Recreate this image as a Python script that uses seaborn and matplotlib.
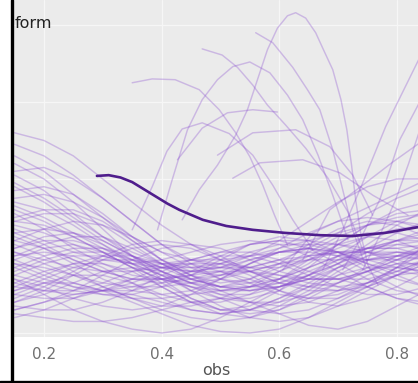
import matplotlib
matplotlib.use("Agg")
import matplotlib.pyplot as plt
from matplotlib.lines import Line2D
import pandas as pd
import seaborn as sns

# Common evaluation grid for the bulk of the posterior draws
obs_grid = [0.15, 0.20, 0.25, 0.30, 0.35, 0.40, 0.45, 0.50,
            0.55, 0.60, 0.65, 0.70, 0.75, 0.80, 0.85]

band_draws = [
    [1.20, 1.10, 0.95, 0.80, 0.70, 0.65, 0.70, 0.80, 0.95, 1.05, 1.10, 1.05, 0.95, 0.85, 0.80],
    [0.60, 0.75, 0.90, 1.00, 1.00, 0.90, 0.75, 0.55, 0.40, 0.35, 0.40, 0.55, 0.75, 0.90, 1.00],
    [1.60, 1.45, 1.25, 1.05, 0.85, 0.70, 0.60, 0.55, 0.60, 0.70, 0.85, 1.00, 1.10, 1.15, 1.10],
    [0.90, 0.85, 0.75, 0.60, 0.45, 0.30, 0.20, 0.15, 0.20, 0.35, 0.55, 0.80, 1.00, 1.15, 1.20],
    [1.90, 1.70, 1.45, 1.20, 1.00, 0.85, 0.80, 0.85, 0.95, 1.05, 1.10, 1.05, 0.90, 0.75, 0.60],
    [0.40, 0.55, 0.75, 0.95, 1.10, 1.15, 1.10, 0.95, 0.80, 0.65, 0.60, 0.65, 0.80, 1.00, 1.15],
    [1.30, 1.35, 1.30, 1.15, 0.95, 0.75, 0.55, 0.45, 0.45, 0.55, 0.75, 1.00, 1.25, 1.45, 1.55],
    [0.75, 0.65, 0.55, 0.50, 0.50, 0.60, 0.75, 0.95, 1.15, 1.25, 1.20, 1.05, 0.85, 0.70, 0.60],
    [2.20, 2.00, 1.70, 1.35, 1.00, 0.70, 0.45, 0.30, 0.25, 0.30, 0.45, 0.65, 0.85, 1.00, 1.05],
    [1.00, 1.15, 1.25, 1.25, 1.10, 0.90, 0.70, 0.60, 0.65, 0.80, 1.00, 1.20, 1.30, 1.30, 1.20],
    [0.50, 0.45, 0.45, 0.55, 0.70, 0.85, 0.95, 0.90, 0.75, 0.55, 0.40, 0.35, 0.45, 0.60, 0.80],
    [1.45, 1.55, 1.55, 1.40, 1.15, 0.90, 0.70, 0.60, 0.60, 0.70, 0.90, 1.15, 1.40, 1.60, 1.70],
    [0.20, 0.30, 0.45, 0.60, 0.70, 0.70, 0.60, 0.45, 0.30, 0.25, 0.30, 0.45, 0.65, 0.85, 0.95],
    [1.05, 0.95, 0.85, 0.80, 0.80, 0.85, 0.90, 0.90, 0.85, 0.75, 0.65, 0.60, 0.65, 0.75, 0.90],
    [2.45, 2.30, 2.05, 1.75, 1.45, 1.15, 0.90, 0.70, 0.60, 0.60, 0.70, 0.90, 1.15, 1.40, 1.60],
    [0.85, 1.00, 1.10, 1.10, 1.00, 0.80, 0.55, 0.35, 0.20, 0.15, 0.20, 0.35, 0.55, 0.75, 0.90],
    [1.70, 1.60, 1.40, 1.15, 0.90, 0.75, 0.70, 0.75, 0.90, 1.10, 1.30, 1.45, 1.50, 1.45, 1.35],
    [0.65, 0.80, 0.90, 0.90, 0.80, 0.60, 0.40, 0.25, 0.20, 0.30, 0.50, 0.75, 0.95, 1.05, 1.05],
    [1.25, 1.10, 0.90, 0.70, 0.55, 0.50, 0.55, 0.70, 0.90, 1.05, 1.10, 1.00, 0.80, 0.60, 0.45],
    [0.30, 0.40, 0.55, 0.75, 0.95, 1.10, 1.15, 1.10, 0.95, 0.80, 0.70, 0.70, 0.80, 0.95, 1.10],
    [1.85, 1.90, 1.80, 1.55, 1.25, 0.95, 0.75, 0.65, 0.70, 0.85, 1.05, 1.25, 1.40, 1.45, 1.40],
    [0.95, 0.80, 0.65, 0.55, 0.55, 0.65, 0.80, 1.00, 1.15, 1.20, 1.10, 0.90, 0.70, 0.55, 0.50],
    [1.40, 1.30, 1.15, 1.00, 0.90, 0.85, 0.85, 0.85, 0.80, 0.70, 0.60, 0.55, 0.60, 0.75, 0.95],
    [0.70, 0.60, 0.45, 0.35, 0.30, 0.35, 0.50, 0.70, 0.90, 1.05, 1.15, 1.15, 1.05, 0.90, 0.75],
    [2.05, 1.85, 1.55, 1.25, 1.00, 0.85, 0.80, 0.85, 1.00, 1.20, 1.45, 1.70, 1.90, 2.00, 2.00],
    [1.10, 1.20, 1.20, 1.10, 0.90, 0.65, 0.45, 0.30, 0.30, 0.40, 0.60, 0.85, 1.05, 1.20, 1.25],
    [0.55, 0.70, 0.85, 0.95, 0.95, 0.85, 0.70, 0.60, 0.55, 0.60, 0.75, 0.95, 1.10, 1.20, 1.20],
    [1.55, 1.35, 1.10, 0.90, 0.75, 0.70, 0.75, 0.90, 1.05, 1.15, 1.15, 1.05, 0.90, 0.80, 0.75],
    [0.80, 0.95, 1.05, 1.05, 0.95, 0.80, 0.65, 0.55, 0.55, 0.65, 0.80, 0.95, 1.05, 1.05, 1.00],
    [1.15, 1.00, 0.80, 0.60, 0.45, 0.35, 0.35, 0.45, 0.60, 0.80, 0.95, 1.05, 1.05, 0.95, 0.85],
    [0.45, 0.60, 0.80, 1.00, 1.15, 1.20, 1.15, 1.00, 0.80, 0.65, 0.55, 0.55, 0.65, 0.80, 0.95],
    [1.75, 1.80, 1.70, 1.50, 1.25, 1.05, 0.95, 0.95, 1.00, 1.05, 1.05, 1.00, 0.95, 0.95, 1.00],
    [0.35, 0.30, 0.30, 0.40, 0.55, 0.75, 0.90, 1.00, 1.00, 0.90, 0.75, 0.60, 0.50, 0.50, 0.60],
    [1.00, 1.05, 1.00, 0.85, 0.65, 0.45, 0.30, 0.25, 0.30, 0.45, 0.65, 0.85, 1.00, 1.05, 1.00],
    [1.35, 1.20, 1.05, 0.95, 0.90, 0.95, 1.05, 1.15, 1.20, 1.15, 1.00, 0.80, 0.60, 0.45, 0.40],
    [2.60, 2.50, 2.30, 2.00, 1.70, 1.40, 1.15, 0.95, 0.85, 0.85, 0.95, 1.10, 1.25, 1.35, 1.40],
    [0.60, 0.55, 0.55, 0.65, 0.80, 0.90, 0.90, 0.80, 0.65, 0.50, 0.45, 0.50, 0.65, 0.85, 1.05],
    [1.50, 1.60, 1.60, 1.45, 1.20, 0.95, 0.75, 0.60, 0.55, 0.60, 0.70, 0.85, 0.95, 1.00, 1.00],
    [0.90, 0.75, 0.60, 0.50, 0.45, 0.45, 0.50, 0.55, 0.60, 0.65, 0.75, 0.90, 1.10, 1.30, 1.45],
    [1.20, 1.35, 1.45, 1.40, 1.25, 1.05, 0.85, 0.70, 0.65, 0.70, 0.85, 1.00, 1.10, 1.10, 1.00],
    [0.70, 0.50, 0.30, 0.15, 0.05, 0.00, 0.05, 0.20, 0.40, 0.60, 0.70, 0.70, 0.60, 0.45, 0.35],
    [0.55, 0.65, 0.65, 0.55, 0.40, 0.25, 0.10, 0.02, 0.00, 0.05, 0.20, 0.40, 0.60, 0.75, 0.80],
    [0.25, 0.20, 0.15, 0.15, 0.20, 0.30, 0.40, 0.45, 0.40, 0.25, 0.10, 0.05, 0.15, 0.35, 0.55],
    [1.65, 1.50, 1.30, 1.10, 0.95, 0.90, 0.95, 1.05, 1.15, 1.20, 1.20, 1.15, 1.10, 1.10, 1.15],
    [0.95, 1.10, 1.15, 1.05, 0.85, 0.60, 0.40, 0.30, 0.35, 0.55, 0.85, 1.15, 1.40, 1.55, 1.60],
    [1.30, 1.15, 0.95, 0.80, 0.70, 0.70, 0.75, 0.80, 0.80, 0.75, 0.70, 0.70, 0.80, 0.95, 1.10],
    [0.50, 0.65, 0.75, 0.75, 0.65, 0.50, 0.40, 0.40, 0.50, 0.70, 0.95, 1.15, 1.25, 1.20, 1.05],
    [2.30, 2.10, 1.80, 1.50, 1.20, 0.95, 0.80, 0.75, 0.80, 0.90, 1.00, 1.05, 1.05, 1.00, 0.95],
    [0.85, 0.70, 0.60, 0.55, 0.60, 0.70, 0.80, 0.80, 0.70, 0.55, 0.45, 0.45, 0.60, 0.85, 1.15],
    [1.10, 1.25, 1.30, 1.20, 1.00, 0.80, 0.65, 0.60, 0.70, 0.90, 1.15, 1.35, 1.45, 1.40, 1.25],
    [0.65, 0.55, 0.50, 0.55, 0.65, 0.80, 0.95, 1.05, 1.05, 0.95, 0.80, 0.70, 0.70, 0.80, 0.95],
    [1.95, 1.75, 1.50, 1.25, 1.05, 0.90, 0.85, 0.90, 1.00, 1.10, 1.20, 1.30, 1.40, 1.50, 1.55],
    [0.40, 0.50, 0.65, 0.80, 0.85, 0.80, 0.65, 0.50, 0.40, 0.40, 0.50, 0.65, 0.80, 0.90, 0.90],
    [1.45, 1.40, 1.25, 1.05, 0.85, 0.70, 0.65, 0.70, 0.80, 0.90, 0.95, 0.95, 0.95, 1.00, 1.10],
    [0.75, 0.90, 1.00, 1.00, 0.90, 0.75, 0.60, 0.50, 0.50, 0.60, 0.75, 0.90, 1.05, 1.20, 1.35],
    [1.05, 0.90, 0.75, 0.65, 0.60, 0.60, 0.65, 0.75, 0.85, 0.95, 1.00, 1.05, 1.10, 1.20, 1.30],
    [0.30, 0.40, 0.50, 0.55, 0.50, 0.40, 0.30, 0.25, 0.30, 0.45, 0.60, 0.75, 0.85, 0.85, 0.80],
    [2.10, 2.15, 2.00, 1.75, 1.45, 1.15, 0.95, 0.85, 0.85, 0.95, 1.10, 1.30, 1.55, 1.75, 1.90],
]

# Draws that wander far above the bulk, each on its own support
upper_draws = [
    ([0.435, 0.464, 0.495, 0.526, 0.546, 0.563, 0.580, 0.597, 0.614, 0.628, 0.645,
      0.662, 0.677, 0.691, 0.705, 0.715, 0.723, 0.730, 0.739, 0.751, 0.768],
     [1.47, 1.86, 2.18, 2.57, 2.90, 3.29, 3.68, 3.96, 4.12, 4.16, 4.09,
      3.90, 3.65, 3.42, 3.03, 2.64, 2.18, 1.73, 1.27, 0.88, 0.62]),
    ([0.560, 0.589, 0.623, 0.648, 0.669, 0.691, 0.708, 0.725, 0.746],
     [3.90, 3.77, 3.45, 3.16, 2.90, 2.38, 1.86, 1.34, 0.88]),
    ([0.469, 0.503, 0.529, 0.555, 0.580, 0.611, 0.645, 0.683, 0.717, 0.742],
     [3.69, 3.61, 3.45, 3.22, 2.96, 2.70, 2.40, 2.01, 1.57, 1.08]),
    ([0.350, 0.384, 0.423, 0.464, 0.498, 0.526, 0.550, 0.572, 0.592, 0.614],
     [3.25, 3.30, 3.29, 3.16, 2.90, 2.60, 2.29, 1.92, 1.53, 1.14]),
    ([0.393, 0.418, 0.444, 0.469, 0.495, 0.521, 0.550, 0.584, 0.614, 0.640, 0.666, 0.691, 0.717],
     [1.34, 1.99, 2.64, 3.03, 3.29, 3.46, 3.52, 3.38, 3.09, 2.77, 2.31, 1.79, 1.21]),
    ([0.350, 0.384, 0.409, 0.435, 0.469, 0.515, 0.555, 0.589, 0.623, 0.657],
     [1.34, 1.90, 2.36, 2.65, 2.73, 2.59, 2.31, 1.92, 1.47, 1.08]),
    ([0.674, 0.708, 0.742, 0.781, 0.810, 0.841],
     [0.82, 1.34, 1.95, 2.68, 3.13, 3.61]),
    ([0.708, 0.740, 0.771, 0.805, 0.841],
     [0.82, 1.25, 1.73, 2.51, 3.03]),
    ([0.742, 0.770, 0.798, 0.820, 0.841],
     [0.82, 1.25, 1.73, 2.20, 2.68]),
    ([0.640, 0.686, 0.742, 0.793, 0.839],
     [0.95, 1.60, 1.92, 2.22, 2.47]),
    ([0.606, 0.657, 0.742, 0.839],
     [0.82, 1.30, 1.60, 1.95]),
    ([0.495, 0.555, 0.628, 0.686, 0.725, 0.759],
     [2.31, 2.60, 2.64, 2.42, 2.05, 1.53]),
    ([0.521, 0.567, 0.640, 0.703, 0.759, 0.819],
     [2.01, 2.21, 2.25, 2.08, 1.79, 1.53]),
    ([0.427, 0.469, 0.512, 0.555, 0.597],
     [2.25, 2.66, 2.86, 2.90, 2.87]),
]

# Posterior mean curve
mean_obs = [0.29, 0.31, 0.33, 0.35, 0.38, 0.41, 0.43, 0.47, 0.51, 0.555,
            0.61, 0.67, 0.725, 0.78, 0.84]
mean_val = [2.04, 2.05, 2.02, 1.96, 1.82, 1.68, 1.60, 1.47, 1.39, 1.34,
            1.30, 1.27, 1.26, 1.30, 1.38]

x_ticks = [0.2, 0.4, 0.6, 0.8]
x_tick_labels = ["0.2", "0.4", "0.6", "0.8"]

# Long-format table of all draws
rows = []
for i, vals in enumerate(band_draws):
    for xv, yv in zip(obs_grid, vals):
        rows.append({"obs": xv, "value": yv, "draw": i})
for j, (xs, ys) in enumerate(upper_draws):
    for xv, yv in zip(xs, ys):
        rows.append({"obs": xv, "value": yv, "draw": len(band_draws) + j})
draws = pd.DataFrame(rows)
mean_df = pd.DataFrame({"obs": mean_obs, "value": mean_val})

sns.set_theme(style="darkgrid", rc={
    "axes.facecolor": "#ebebeb",
    "grid.color": "#f6f6f6",
    "grid.linewidth": 0.9,
})
plt.rcParams["font.family"] = ["DejaVu Sans"]

fig = plt.figure(figsize=(4.18, 3.83), dpi=100)
fig.patch.set_facecolor("white")
ax = fig.add_axes([14 / 418, 1 - 337 / 383, 1 - 14 / 418, 337 / 383])

sns.lineplot(data=draws, x="obs", y="value", units="draw", estimator=None,
             color="#8a4fd0", alpha=0.33, linewidth=1.05, ax=ax, legend=False)
sns.lineplot(data=mean_df, x="obs", y="value", color="#4f1d8c",
             linewidth=1.9, ax=ax, legend=False)

ax.set_xlim(0.149, 0.836)
ax.set_ylim(-0.052, 4.325)
ax.set_xticks(x_ticks)
ax.set_xticklabels(x_tick_labels)
ax.set_yticks([0, 1, 2, 3, 4])
ax.set_yticklabels([])
ax.tick_params(axis="x", length=0, pad=7, labelsize=11, labelcolor="#707070")
ax.tick_params(axis="y", length=0)
ax.set_xlabel("obs", fontsize=11.5, color="#555555", labelpad=1)
ax.set_ylabel("")
for s in ax.spines.values():
    s.set_visible(False)

fig.text(15 / 418, 1 - 23 / 383, "form", ha="left", va="center",
         fontsize=11.5, color="#222222")

# Frame lines along the left and bottom edges
fig.add_artist(Line2D([11.5 / 418, 11.5 / 418], [0, 1], transform=fig.transFigure,
                      color="black", linewidth=2.4))
fig.add_artist(Line2D([0, 1], [1.5 / 383, 1.5 / 383], transform=fig.transFigure,
                      color="black", linewidth=2.4))

fig.savefig("out.png", dpi=100)
